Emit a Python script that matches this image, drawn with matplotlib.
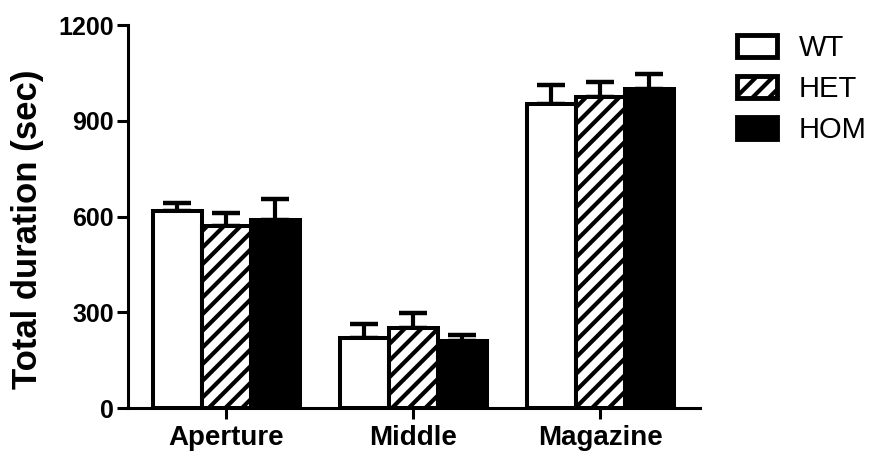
import numpy as np
import matplotlib.pyplot as plt
from matplotlib.patches import Patch

plt.rcParams['font.family'] = ['Liberation Sans', 'DejaVu Sans']
plt.rcParams['hatch.linewidth'] = 3.0
plt.rcParams['hatch.color'] = 'black'

# ── data ──────────────────────────────────────────────────────────────────────
zones = ["Aperture", "Middle", "Magazine"]
genotypes = ["WT", "HET", "HOM"]
wt_mean = [617, 220, 954]
wt_sem = [25, 42, 58]
het_mean = [569, 252, 973]
het_sem = [41, 46, 50]
hom_mean = [590, 210, 999]
hom_sem = [65, 20, 49]
y_ticks = [0, 300, 600, 900, 1200]

means = [wt_mean, het_mean, hom_mean]
sems = [wt_sem, het_sem, hom_sem]
faces = ["white", "white", "black"]
hatches = ["", "//", ""]

# ── plot ──────────────────────────────────────────────────────────────────────
fig = plt.figure(figsize=(8.75, 4.55), dpi=100)
ax = fig.add_axes([0.146, 0.103, 0.654, 0.842])

x = np.arange(len(zones))
width = 0.262
for i, g in enumerate(genotypes):
    pos = x + (i - 1) * width
    ax.errorbar(pos, means[i], yerr=[np.zeros(len(zones)), sems[i]], fmt="none",
                ecolor="black", elinewidth=3, capsize=10, capthick=3.2, zorder=1)
    ax.bar(pos, means[i], width=width, color=faces[i], edgecolor="black",
           linewidth=2.9, hatch=hatches[i], label=g, zorder=2)

ax.set_xlim(-0.527, 2.532)
ax.set_ylim(0, 1200)
ax.set_yticks(y_ticks)
ax.set_yticklabels([str(t) for t in y_ticks], fontsize=18, fontweight="bold")
ax.set_xticks(x)
ax.set_xticklabels(zones, fontsize=20, fontweight="bold")
ax.set_ylabel("Total duration (sec)", fontsize=25, fontweight="bold")
ax.yaxis.set_label_coords(-0.146, 0.467)

for side in ["top", "right"]:
    ax.spines[side].set_visible(False)
for side in ["left", "bottom"]:
    ax.spines[side].set_linewidth(2.2)
ax.tick_params(axis="both", width=2.2, length=8, direction="out")
ax.tick_params(axis="y", pad=2)
ax.tick_params(axis="x", pad=4)

handles = [Patch(facecolor=faces[i], edgecolor="black", linewidth=3.5, hatch=hatches[i],
                 label=g) for i, g in enumerate(genotypes)]
fig.legend(handles=handles, loc="upper left", bbox_to_anchor=(0.826, 0.957),
           frameon=False, fontsize=21, handlelength=1.35, handleheight=0.8,
           labelspacing=0.45, handletextpad=0.75, borderpad=0)

fig.savefig("out.png", dpi=100)
